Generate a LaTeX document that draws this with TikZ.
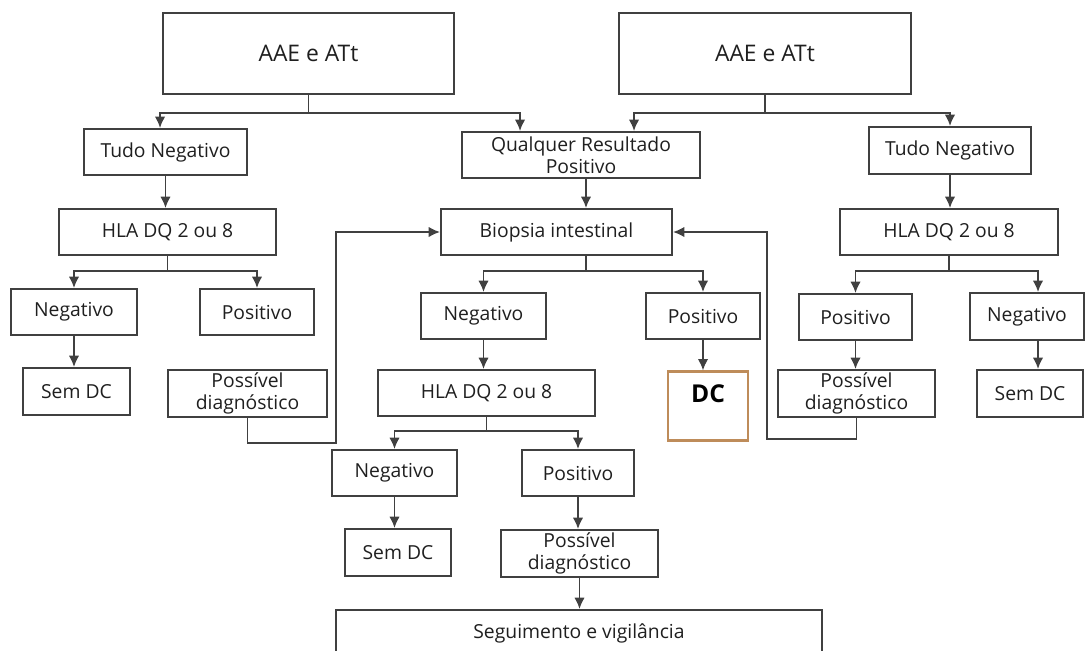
\documentclass[tikz,border=0pt]{standalone}
\usepackage{fontspec}
\setmainfont{Open Sans}
\usetikzlibrary{arrows.meta,calc}
\definecolor{bege}{RGB}{190,140,90}

\begin{document}
\begin{tikzpicture}[x=0.02cm, y=-0.02cm]
	\tikzset{caixa/.style={rectangle, draw=black!75, line width=1.1pt, text=black!88, inner sep=0pt, align=center, font=\fontsize{11}{12.8}\selectfont},
		tam/.style 2 args={minimum width=#1*0.02cm, minimum height=#2*0.02cm},
		linha/.style={draw=black!75, line width=1.1pt},
		seta/.style={linha, -{Latex[length=6.5pt, width=6pt]}}};

	\useasboundingbox (0,0) rectangle (1089,650);

	\node[caixa, tam={291}{81}, font=\fontsize{13}{15}\selectfont] (aae1) at ( 308.5,  53.5) {AAE e ATt};
	\node[caixa, tam={292}{81}, font=\fontsize{13}{15}\selectfont] (aae2) at ( 765,    53.5) {AAE e ATt};

	\node[caixa, tam={163}{46}] (tn1)  at ( 165.5, 152)   {Tudo Negativo};
	\node[caixa, tam={238}{46}] (qrp)  at ( 581,   155)   {Qualquer Resultado\\Positivo};
	\node[caixa, tam={162}{47}] (tn2)  at ( 950,   150.5) {Tudo Negativo};

	\node[caixa, tam={217}{46}] (hla1) at ( 167.5, 232)   {HLA DQ 2 ou 8};
	\node[caixa, tam={231}{46}] (bio)  at ( 556.5, 232)   {Biopsia intestinal};
	\node[caixa, tam={218}{46}] (hla2) at ( 949,   232)   {HLA DQ 2 ou 8};

	\node[caixa, tam={126}{46}] (neg1) at (  74,   312)   {Negativo};
	\node[caixa, tam={114}{46}] (pos1) at ( 257,   312)   {Positivo};
	\node[caixa, tam={125}{46}] (neg2) at ( 483.5, 316)   {Negativo};
	\node[caixa, tam={114}{46}] (pos2) at ( 703,   316)   {Positivo};
	\node[caixa, tam={113}{46}] (pos3) at ( 855.5, 317)   {Positivo};
	\node[caixa, tam={114}{47}] (neg3) at (1027,   316.5) {Negativo};

	\node[caixa, tam={107}{47}] (sdc1) at (  76.5, 391.5) {Sem DC};
	\node[caixa, tam={159}{47}] (pd1)  at ( 247.5, 393.5) {Possível\\diagnóstico};
	\node[caixa, tam={217}{46}] (hla3) at ( 486.5, 393)   {HLA DQ 2 ou 8};
	\node[caixa, tam={80}{69}, draw=bege, line width=1.2pt, text=black, font=\bfseries\fontsize{14}{16}\selectfont,
		text height=0.36cm, text depth=0.5cm] (dc) at ( 708, 406) {DC};
	\node[caixa, tam={157}{47}] (pd2)  at ( 856.5, 393.5) {Possível\\diagnóstico};
	\node[caixa, tam={106}{47}] (sdc2) at (1030,   393.5) {Sem DC};

	\node[caixa, tam={125}{46}] (neg4) at ( 394.5, 473)   {Negativo};
	\node[caixa, tam={112}{46}] (pos4) at ( 578,   473)   {Positivo};
	\node[caixa, tam={106}{47}] (sdc3) at ( 398,   552.5) {Sem DC};
	\node[caixa, tam={157}{47}] (pd3)  at ( 579.5, 553.5) {Possível\\diagnóstico};
	\node[caixa, tam={486}{46}] (seg)  at ( 579,   633)   {Seguimento e vigilância};

	\draw[linha] (aae1.south) -- ++(0,18) coordinate (j1);
	\draw[seta] (j1) -| ($(tn1.north west)+(77,0)$);
	\draw[seta] (j1) -| ($(qrp.north west)+(59,0)$);
	\draw[linha] (aae2.south) -- ++(0,18) coordinate (j2);
	\draw[seta] (j2) -| ($(qrp.north west)+(173,0)$);
	\draw[seta] (j2) -| (tn2.north);

	\draw[seta] (tn1.south) -- (tn1.south |- hla1.north);
	\draw[seta] ($(qrp.south)+(5,0)$) -- ($(bio.north)+(29.5,0)$);
	\draw[seta] (tn2.south) -- (tn2.south |- hla2.north);

	\draw[linha] (hla1.south) -- ++(0,15) coordinate (j3);
	\draw[seta] (j3) -| (neg1.north);
	\draw[seta] (j3) -| (pos1.north);
	\draw[linha] ($(bio.south)+(29.5,0)$) -- ++(0,15) coordinate (j4);
	\draw[seta] (j4) -| (neg2.north);
	\draw[seta] (j4) -| (pos2.north);
	\draw[linha] (hla2.south) -- ++(0,15) coordinate (j5);
	\draw[seta] (j5) -| (pos3.north);
	\draw[seta] (j5) -| ($(neg3.north)+(11,0)$);

	\draw[seta] (neg1.south) -- (neg1.south |- sdc1.north);
	\draw[seta] (pd1.south) -- ++(0,25) -- ++(88.5,0) |- (bio.west);
	\draw[seta] (neg2.south) -- (neg2.south |- hla3.north);
	\draw[seta] (pos2.south) -- (pos2.south |- dc.north);
	\draw[seta] (pos3.south) -- (pos3.south |- pd2.north);
	\draw[seta] (pd2.south) -- ++(0,21) -- ++(-89.5,0) |- (bio.east);
	\draw[seta] ($(neg3.south)+(11,0)$) -- ($(sdc2.north)+(8,0)$);

	\draw[linha] (hla3.south) -- ++(0,14) coordinate (j6);
	\draw[seta] (j6) -| (neg4.north);
	\draw[seta] (j6) -| (pos4.north);
	\draw[seta] (neg4.south) -- (neg4.south |- sdc3.north);
	\draw[seta] (pos4.south) -- (pos4.south |- pd3.north);
	\draw[seta] (pd3.south) -- (pd3.south |- seg.north);

\end{tikzpicture}
\end{document}
